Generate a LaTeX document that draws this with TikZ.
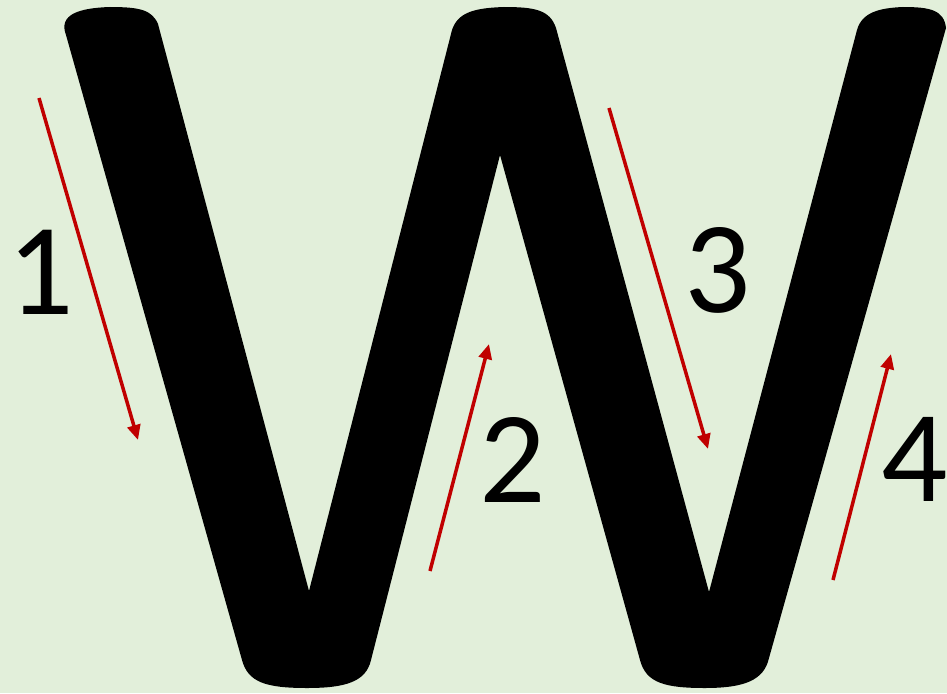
\documentclass[tikz,border=0pt]{standalone}
\usepackage{fontspec}
\newfontfamily\digitfont{Carlito}
\usetikzlibrary{arrows.meta}
\definecolor{bgcol}{HTML}{E2EFDA}
\definecolor{wred}{HTML}{C00000}

\begin{document}
\begin{tikzpicture}[x=1pt, y=-1pt,
    arrowline/.style={draw=wred, line width=3.5pt, -{Triangle[length=15pt,width=13pt]}},
    num/.style={font=\digitfont\fontsize{131}{131}\selectfont, inner sep=0pt}]
  % 背景, 像素坐标 (y 向下)
  \clip (0,0) rectangle (947,693);
  \fill[bgcol] (0,0) rectangle (947,693);
  % 字母 W: 三个顶端圆头, 两个底端圆头, 三个尖角
  \coordinate (N1) at (309,591);
  \coordinate (N2) at (709,592);
  \coordinate (T) at (500,155);
  \fill[black]
    (66,35) .. controls (58,14) and (80,8) .. (110,7)
            .. controls (140,7) and (152,10) .. (158,24)
    -- (N1)
    -- (452,30) .. controls (458,12) and (475,8) .. (504,7)
               .. controls (535,7) and (550,10) .. (556,28)
    -- (N2)
    -- (857,30) .. controls (862,12) and (880,8) .. (903,7)
               .. controls (930,7) and (944,10) .. (946,28)
    -- (769,658) .. controls (764,680) and (745,688) .. (705,688)
               .. controls (665,688) and (646,683) .. (640,660)
    -- (T)
    -- (371,660) .. controls (366,682) and (345,688) .. (307,688)
               .. controls (265,688) and (248,682) .. (242,660)
    -- cycle;
  % 笔顺箭头
  \coordinate (s1) at (39,98);   \coordinate (e1) at (138,440);
  \coordinate (s2) at (430,571); \coordinate (e2) at (489,344);
  \coordinate (s3) at (609,108); \coordinate (e3) at (708,449);
  \coordinate (s4) at (833,580); \coordinate (e4) at (891,354);
  \draw[arrowline] (s1) -- (e1);
  \draw[arrowline] (s2) -- (e2);
  \draw[arrowline] (s3) -- (e3);
  \draw[arrowline] (s4) -- (e4);
  % 序号
  \node[num] (l1) at (41,272) {1};
  \node[num] (l2) at (513,460) {2};
  \node[num] (l3) at (718,270) {3};
  \node[num] (l4) at (915,459) {4};
\end{tikzpicture}
\end{document}
